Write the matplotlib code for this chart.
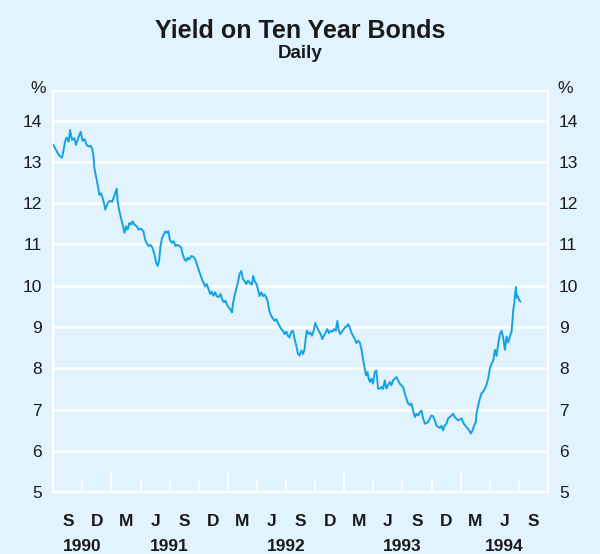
import matplotlib
matplotlib.use("Agg")
import matplotlib.pyplot as plt
import numpy as np

plt.rcParams['font.family'] = ['Liberation Sans', 'DejaVu Sans']

# dates as decimal years (per cent)
years = [
    1990.500, 1990.523, 1990.552, 1990.575, 1990.586, 1990.601, 1990.614, 1990.632, 1990.644, 1990.661,
    1990.681, 1990.695, 1990.718, 1990.735, 1990.752, 1990.769, 1990.786, 1990.804, 1990.821, 1990.833,
    1990.844, 1990.853, 1990.867, 1990.881, 1990.896, 1990.910, 1990.924, 1990.939, 1990.947, 1990.967,
    1990.988, 1991.005, 1991.019, 1991.033, 1991.045, 1991.053, 1991.068, 1991.082, 1991.096, 1991.111,
    1991.125, 1991.139, 1991.154, 1991.168, 1991.182, 1991.197, 1991.217, 1991.234, 1991.254, 1991.274,
    1991.289, 1991.303, 1991.320,
    1991.334, 1991.352, 1991.369, 1991.384, 1991.397, 1991.409, 1991.421, 1991.435, 1991.449, 1991.464,
    1991.478, 1991.489, 1991.501, 1991.518, 1991.535, 1991.550, 1991.564, 1991.581, 1991.599, 1991.612,
    1991.627, 1991.642, 1991.655, 1991.670, 1991.685, 1991.704, 1991.719, 1991.733, 1991.747, 1991.762,
    1991.776, 1991.790, 1991.805, 1991.819, 1991.833, 1991.848, 1991.862, 1991.876, 1991.891, 1991.905,
    1991.919, 1991.937, 1991.951, 1991.965, 1991.980, 1991.994, 1992.008, 1992.023, 1992.034, 1992.046,
    1992.057, 1992.072, 1992.086, 1992.100, 1992.115, 1992.129, 1992.143, 1992.158, 1992.172,
    1992.178, 1992.195, 1992.206, 1992.218, 1992.229, 1992.244, 1992.258, 1992.272, 1992.287, 1992.301,
    1992.315, 1992.330, 1992.344, 1992.356, 1992.373, 1992.387, 1992.401, 1992.416, 1992.430, 1992.444,
    1992.459, 1992.473, 1992.487, 1992.502, 1992.516, 1992.530, 1992.545, 1992.559, 1992.573, 1992.588,
    1992.602, 1992.616, 1992.631, 1992.645, 1992.659, 1992.668, 1992.679, 1992.694, 1992.708, 1992.722,
    1992.737, 1992.751, 1992.765, 1992.780, 1992.797, 1992.812, 1992.825, 1992.840, 1992.855, 1992.868,
    1992.883, 1992.898, 1992.911, 1992.926, 1992.941, 1992.952, 1992.966, 1992.980, 1992.995, 1993.009,
    1993.027,
    1993.032, 1993.046, 1993.061, 1993.075, 1993.090, 1993.104, 1993.118, 1993.133, 1993.147, 1993.161,
    1993.176, 1993.187, 1993.199, 1993.210, 1993.221, 1993.233, 1993.247, 1993.262, 1993.276, 1993.290,
    1993.305, 1993.319, 1993.333, 1993.348, 1993.362, 1993.376, 1993.391, 1993.405, 1993.419, 1993.434,
    1993.448, 1993.462, 1993.477, 1993.491, 1993.505, 1993.520, 1993.534, 1993.548, 1993.563, 1993.577,
    1993.591, 1993.606, 1993.620, 1993.634, 1993.649, 1993.663, 1993.677, 1993.692, 1993.706, 1993.720,
    1993.735, 1993.749, 1993.763, 1993.778, 1993.792, 1993.806, 1993.821, 1993.835, 1993.849, 1993.864,
    1993.878, 1993.892, 1993.907,
    1993.935, 1993.950, 1993.978, 1994.007, 1994.027, 1994.050, 1994.073, 1994.087, 1994.102, 1994.116,
    1994.130, 1994.136, 1994.150, 1994.165, 1994.179, 1994.193, 1994.208, 1994.222, 1994.236, 1994.251,
    1994.265, 1994.279, 1994.294, 1994.308, 1994.322, 1994.337, 1994.351, 1994.365, 1994.380, 1994.394,
    1994.408, 1994.423, 1994.437, 1994.446, 1994.451, 1994.460, 1994.466, 1994.475, 1994.481, 1994.489,
    1994.500, 1994.512,
]
yields = [
    13.41, 13.29, 13.15, 13.10, 13.25, 13.49, 13.59, 13.49, 13.77, 13.53,
    13.57, 13.41, 13.61, 13.73, 13.51, 13.55, 13.41, 13.37, 13.39, 13.33,
    13.17, 12.85, 12.65, 12.45, 12.20, 12.24, 12.13, 11.96, 11.84, 12.00,
    12.06, 12.03, 12.13, 12.25, 12.35, 12.03, 11.80, 11.64, 11.48, 11.28,
    11.44, 11.36, 11.52, 11.48, 11.56, 11.48, 11.44, 11.36, 11.38, 11.32,
    11.12, 11.02, 10.96,
    10.99, 10.92, 10.76, 10.56, 10.48, 10.60, 10.96, 11.16, 11.24, 11.32,
    11.28, 11.32, 11.12, 11.04, 11.08, 10.96, 10.99, 10.97, 10.92, 10.76,
    10.64, 10.60, 10.68, 10.64, 10.72, 10.70, 10.64, 10.52, 10.40, 10.28,
    10.17, 10.08, 9.98, 10.04, 9.92, 9.80, 9.86, 9.76, 9.84, 9.75,
    9.72, 9.80, 9.67, 9.60, 9.64, 9.53, 9.47, 9.43, 9.35, 9.60,
    9.75, 9.92, 10.08, 10.28, 10.36, 10.16, 10.12, 10.04, 10.12,
    10.10, 10.05, 10.03, 10.24, 10.12, 10.05, 9.92, 9.75, 9.84, 9.75,
    9.79, 9.71, 9.60, 9.39, 9.27, 9.21, 9.15, 9.19, 9.10, 9.03,
    8.95, 8.91, 8.83, 8.89, 8.79, 8.75, 8.89, 8.91, 8.71, 8.55,
    8.35, 8.31, 8.43, 8.35, 8.47, 8.71, 8.91, 8.83, 8.87, 8.79,
    8.91, 9.10, 9.00, 8.91, 8.83, 8.71, 8.79, 8.87, 8.95, 8.85,
    8.91, 8.89, 8.95, 8.91, 9.15, 8.91, 8.83, 8.89, 8.95, 9.00,
    9.03,
    9.07, 9.00, 8.87, 8.79, 8.71, 8.61, 8.67, 8.63, 8.47, 8.23,
    7.99, 7.83, 7.91, 7.75, 7.67, 7.75, 7.63, 7.91, 7.95, 7.51,
    7.51, 7.55, 7.50, 7.71, 7.51, 7.59, 7.67, 7.59, 7.71, 7.75,
    7.79, 7.71, 7.63, 7.59, 7.55, 7.39, 7.27, 7.15, 7.11, 7.15,
    6.98, 6.82, 6.90, 6.86, 6.94, 6.98, 6.79, 6.66, 6.68, 6.70,
    6.79, 6.86, 6.84, 6.74, 6.62, 6.58, 6.56, 6.61, 6.50, 6.62,
    6.66, 6.79, 6.82,
    6.90, 6.82, 6.74, 6.79, 6.66, 6.58, 6.50, 6.42, 6.50, 6.62,
    6.70, 6.90, 7.10, 7.27, 7.40, 7.43, 7.51, 7.60, 7.75, 8.00,
    8.11, 8.18, 8.45, 8.30, 8.58, 8.83, 8.91, 8.75, 8.45, 8.77,
    8.63, 8.77, 8.89, 9.19, 9.40, 9.55, 9.75, 9.97, 9.71, 9.76,
    9.67, 9.62,
]

quarter_labels = ['S', 'D', 'M', 'J', 'S', 'D', 'M', 'J', 'S', 'D', 'M', 'J', 'S', 'D', 'M', 'J', 'S']
year_labels = ['1990', '1991', '1992', '1993', '1994']

bg = '#e1f3fd'
line_col = '#14a2e6'
txt = '#1a1a1a'

fig = plt.figure(figsize=(6.0, 5.54), dpi=100, facecolor=bg)
ax = fig.add_axes([0.0888, 0.1114, 0.8245, 0.7247], facecolor=bg)

ax.plot(years, yields, color=line_col, lw=1.4, zorder=3)

x0, x1 = 1990.5, 1994.75
ax.set_xlim(x0, x1)
ax.set_ylim(5, 14.72)

ax.set_yticks(range(5, 15))
ax.yaxis.grid(True, color='white', lw=1.8)
ax.set_axisbelow(True)
ax.tick_params(axis='y', length=0, labelsize=12.5, pad=8, colors=txt,
               labelleft=True, labelright=True)

# quarterly ticks, long ones at each new year
q_edges = np.arange(x0, x1 + 0.001, 0.25)
inner = q_edges[1:-1]
major = [q for q in inner if abs(q - round(q)) < 1e-6]
minor = [q for q in inner if abs(q - round(q)) >= 1e-6]
ax.set_xticks(major)
ax.set_xticks(minor, minor=True)
ax.set_xticklabels([])
ax.tick_params(axis='x', which='major', direction='in', length=14.4, width=1.4, color='white')
ax.tick_params(axis='x', which='minor', direction='in', length=8.6, width=1.4, color='white')

for s in ax.spines.values():
    s.set_color('white')
    s.set_linewidth(1.6)

# quarter letters centred in each quarter
q_mid = (q_edges[:-1] + q_edges[1:]) / 2
for xm, lab in zip(q_mid, quarter_labels):
    ax.text(xm, -0.072, lab, transform=ax.get_xaxis_transform(), ha='center', va='center',
            fontsize=12.5, fontweight='bold', color=txt)

# years centred on their visible span
yr_start = [x0, 1991, 1992, 1993, 1994]
yr_end = [1991, 1992, 1993, 1994, x1]
for a, b, lab in zip(yr_start, yr_end, year_labels):
    ax.text((a + b) / 2, -0.135, lab, transform=ax.get_xaxis_transform(), ha='center', va='center',
            fontsize=12.5, fontweight='bold', color=txt)

fig.text(0.063, 0.841, '%', ha='center', va='center', fontsize=12.5, color=txt)
fig.text(0.942, 0.841, '%', ha='center', va='center', fontsize=12.5, color=txt)

fig.text(0.5, 0.944, 'Yield on Ten Year Bonds', ha='center', va='center',
         fontsize=18, fontweight='bold', color=txt)
fig.text(0.5, 0.903, 'Daily', ha='center', va='center',
         fontsize=13.5, fontweight='bold', color=txt)

fig.savefig('out.png', dpi=100, facecolor=bg)
